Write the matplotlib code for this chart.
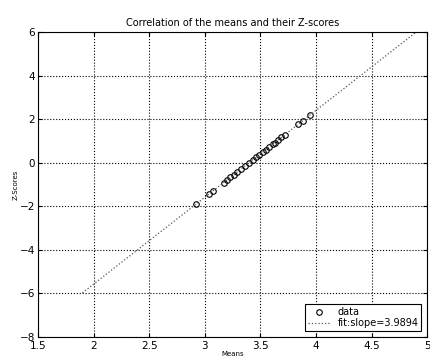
import numpy as np
import matplotlib
matplotlib.use('Agg')
import matplotlib.pyplot as plt

# means of the samples and their z-scores
means = [2.92, 3.04, 3.07, 3.17, 3.20, 3.23, 3.26, 3.29, 3.33, 3.36, 3.40, 3.43,
         3.46, 3.49, 3.52, 3.55, 3.58, 3.61, 3.63, 3.66, 3.69, 3.72, 3.84, 3.88, 3.95]
zscores = [-1.92, -1.44, -1.32, -0.92, -0.80, -0.68, -0.56, -0.44, -0.28, -0.16, 0.0, 0.12,
           0.24, 0.36, 0.48, 0.60, 0.72, 0.84, 0.92, 1.04, 1.16, 1.28, 1.76, 1.92, 2.19]
fit_slope = 3.9894
fit_intercept = -13.56
fit_range = [1.9, 4.9]

xticks = [1.5, 2, 2.5, 3, 3.5, 4, 4.5, 5]
xticklabels = ['1.5', '2', '2.5', '3', '3.5', '4', '4.5', '5']
yticks = [-8, -6, -4, -2, 0, 2, 4, 6]

fig = plt.figure(figsize=(4.31, 3.63), dpi=100)
ax = fig.add_axes([0.088, 0.072, 0.903, 0.84])

ax.plot(means, zscores, 'o', mfc='none', mec='black', ms=4, mew=0.8, label='data')
fx = np.array(fit_range)
ax.plot(fx, fit_slope * fx + fit_intercept, ':', color='#555555', lw=0.9,
        label='fit:slope=%.4f' % fit_slope)

ax.set_xlim(1.5, 5)
ax.set_ylim(-8, 6)
ax.set_xticks(xticks)
ax.set_xticklabels(xticklabels)
ax.set_yticks(yticks)
ax.tick_params(direction='in', top=True, right=True, labelsize=7.5, length=3, pad=2)
ax.tick_params(axis='x', pad=3)
ax.grid(True, linestyle=':', color='black', lw=0.8)
for s in ax.spines.values():
    s.set_linewidth(0.8)

ax.set_title('Correlation of the means and their Z-scores', fontsize=7, pad=4)
ax.set_xlabel('Means', fontsize=5, labelpad=0)
ax.set_ylabel('Z-Scores', fontsize=5, labelpad=1)

leg = ax.legend(loc='lower right', fontsize=7, fancybox=False, framealpha=1,
                edgecolor='black', borderpad=0.3, labelspacing=0.1, handlelength=2.2,
                borderaxespad=0.6)
leg.get_frame().set_linewidth(0.8)

fig.savefig('out.png', dpi=100)
